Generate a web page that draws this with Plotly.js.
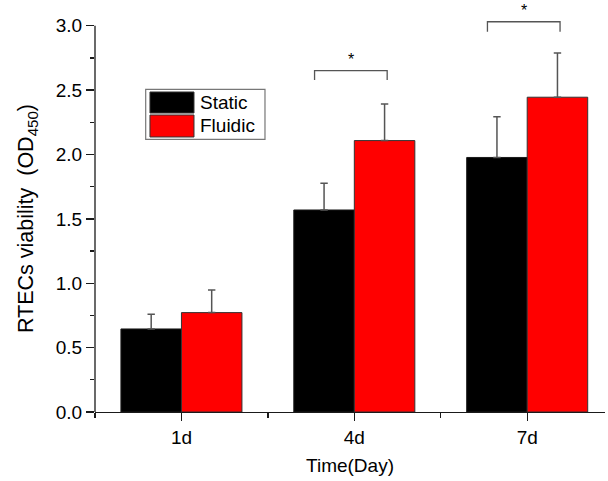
<!DOCTYPE html>
<html>
<head>
<meta charset="utf-8">
<script src="https://cdn.plot.ly/plotly-3.0.1.min.js"></script>
<style>html,body{margin:0;padding:0;background:#fff;}#chart{width:608px;height:481px;}</style>
</head>
<body>
<div id="chart"></div>
<script>
// ---- data ----
const categories = ['1d', '4d', '7d'];
const staticValues = [0.645, 1.569, 1.977];
const staticErrors = [0.115, 0.207, 0.317];
const fluidicValues = [0.772, 2.108, 2.445];
const fluidicErrors = [0.176, 0.285, 0.343];
const seriesNames = ['Static', 'Fluidic'];
// significance brackets: category index, bracket top value, drop-end value
const sigIndex = [1, 2];
const sigTop = [2.651, 3.031];
const sigBottom = [2.579, 2.953];
const sigLabels = ['*', '*'];
const yTitle = 'RTECs viability  (OD<sub>450</sub>)';
const xTitle = 'Time(Day)';

const xPos = categories.map((_, i) => i);
const zeros = categories.map(() => 0);
const font = 'Liberation Sans, Arial, sans-serif';

const errStyle = {type: 'data', symmetric: false, arrayminus: zeros, color: '#555555', thickness: 1.5, width: 3.7};

const traces = [
  {type: 'bar', x: xPos, y: staticValues, name: seriesNames[0],
   marker: {color: '#000000', line: {color: '#1a1a1a', width: 1}},
   error_y: Object.assign({array: staticErrors}, errStyle)},
  {type: 'bar', x: xPos, y: fluidicValues, name: seriesNames[1],
   marker: {color: '#ff0000', line: {color: '#333333', width: 1}},
   error_y: Object.assign({array: fluidicErrors}, errStyle)}
];

const shapes = [];
const annotations = [];
// left axis line (ends at 3.0 like the original)
shapes.push({type: 'line', xref: 'paper', yref: 'y', x0: 0, x1: 0, y0: 0, y1: 3.0,
  line: {color: '#1a1a1a', width: 1.3}});

sigIndex.forEach((ci, k) => {
  const xl = ci - 0.23, xr = ci + 0.19;
  shapes.push({type: 'path', xref: 'x', yref: 'y',
    path: `M ${xl},${sigBottom[k]} L ${xl},${sigTop[k]} L ${xr},${sigTop[k]} L ${xr},${sigBottom[k]}`,
    line: {color: '#555555', width: 1.3}});
  annotations.push({xref: 'x', yref: 'y', x: ci - 0.02, y: sigTop[k], yanchor: 'bottom', yshift: 1,
    text: sigLabels[k], showarrow: false, font: {family: font, size: 16, color: '#000'}});
});

// y-axis title centred on the 0-3.0 span
annotations.push({xref: 'paper', yref: 'y', x: -0.131, y: 1.5, xanchor: 'center', yanchor: 'middle',
  textangle: -90, text: yTitle, showarrow: false, font: {family: font, size: 21.5, color: '#000'}});

// custom legend (large swatches, as in the original)
shapes.push({type: 'rect', xref: 'paper', yref: 'paper', x0: 0.0994, x1: 0.3333, y0: 0.6619, y1: 0.7832,
  line: {color: '#777777', width: 1.2}, fillcolor: 'rgba(0,0,0,0)'});
shapes.push({type: 'rect', xref: 'paper', yref: 'paper', x0: 0.1078, x1: 0.1941, y0: 0.7257, y1: 0.7767,
  line: {color: '#333333', width: 1}, fillcolor: '#000000'});
shapes.push({type: 'rect', xref: 'paper', yref: 'paper', x0: 0.1078, x1: 0.1941, y0: 0.6675, y1: 0.7209,
  line: {color: '#333333', width: 1}, fillcolor: '#ff0000'});
annotations.push({xref: 'paper', yref: 'paper', x: 0.2019, y: 0.7512, xanchor: 'left', yanchor: 'middle',
  text: seriesNames[0], showarrow: false, font: {family: font, size: 19, color: '#000'}});
annotations.push({xref: 'paper', yref: 'paper', x: 0.2019, y: 0.6942, xanchor: 'left', yanchor: 'middle',
  text: seriesNames[1], showarrow: false, font: {family: font, size: 19, color: '#000'}});

const layout = {
  width: 608, height: 481,
  margin: {l: 95, r: 3, t: 0, b: 69},
  paper_bgcolor: '#ffffff', plot_bgcolor: '#ffffff',
  barmode: 'group', bargap: 0.3, bargroupgap: 0,
  showlegend: false,
  font: {family: font, color: '#000'},
  xaxis: {
    range: [-0.5, 2.45], tickvals: xPos, ticktext: categories,
    showgrid: false, zeroline: false, showline: true, linecolor: '#1a1a1a', linewidth: 1.3,
    ticks: 'outside', ticklen: 8, tickwidth: 1.3, tickcolor: '#1a1a1a',
    minor: {tick0: 0.5, dtick: 1, ticks: 'outside', ticklen: 5, tickwidth: 1.3, tickcolor: '#1a1a1a'},
    tickfont: {family: font, size: 19, color: '#000'},
    title: {text: xTitle, font: {family: font, size: 19, color: '#000'}, standoff: 11}
  },
  yaxis: {
    range: [0, 3.2], dtick: 0.5, tick0: 0, tickformat: '.1f',
    showgrid: false, zeroline: false, showline: false,
    ticks: 'outside', ticklen: 8, tickwidth: 1.3, tickcolor: '#1a1a1a',
    minor: {dtick: 0.25, ticks: 'outside', ticklen: 4, tickwidth: 1.3, tickcolor: '#1a1a1a'},
    tickfont: {family: font, size: 19, color: '#000'}
  },
  shapes: shapes,
  annotations: annotations
};

Plotly.newPlot('chart', traces, layout, {displayModeBar: false, staticPlot: true});
</script>
</body>
</html>
